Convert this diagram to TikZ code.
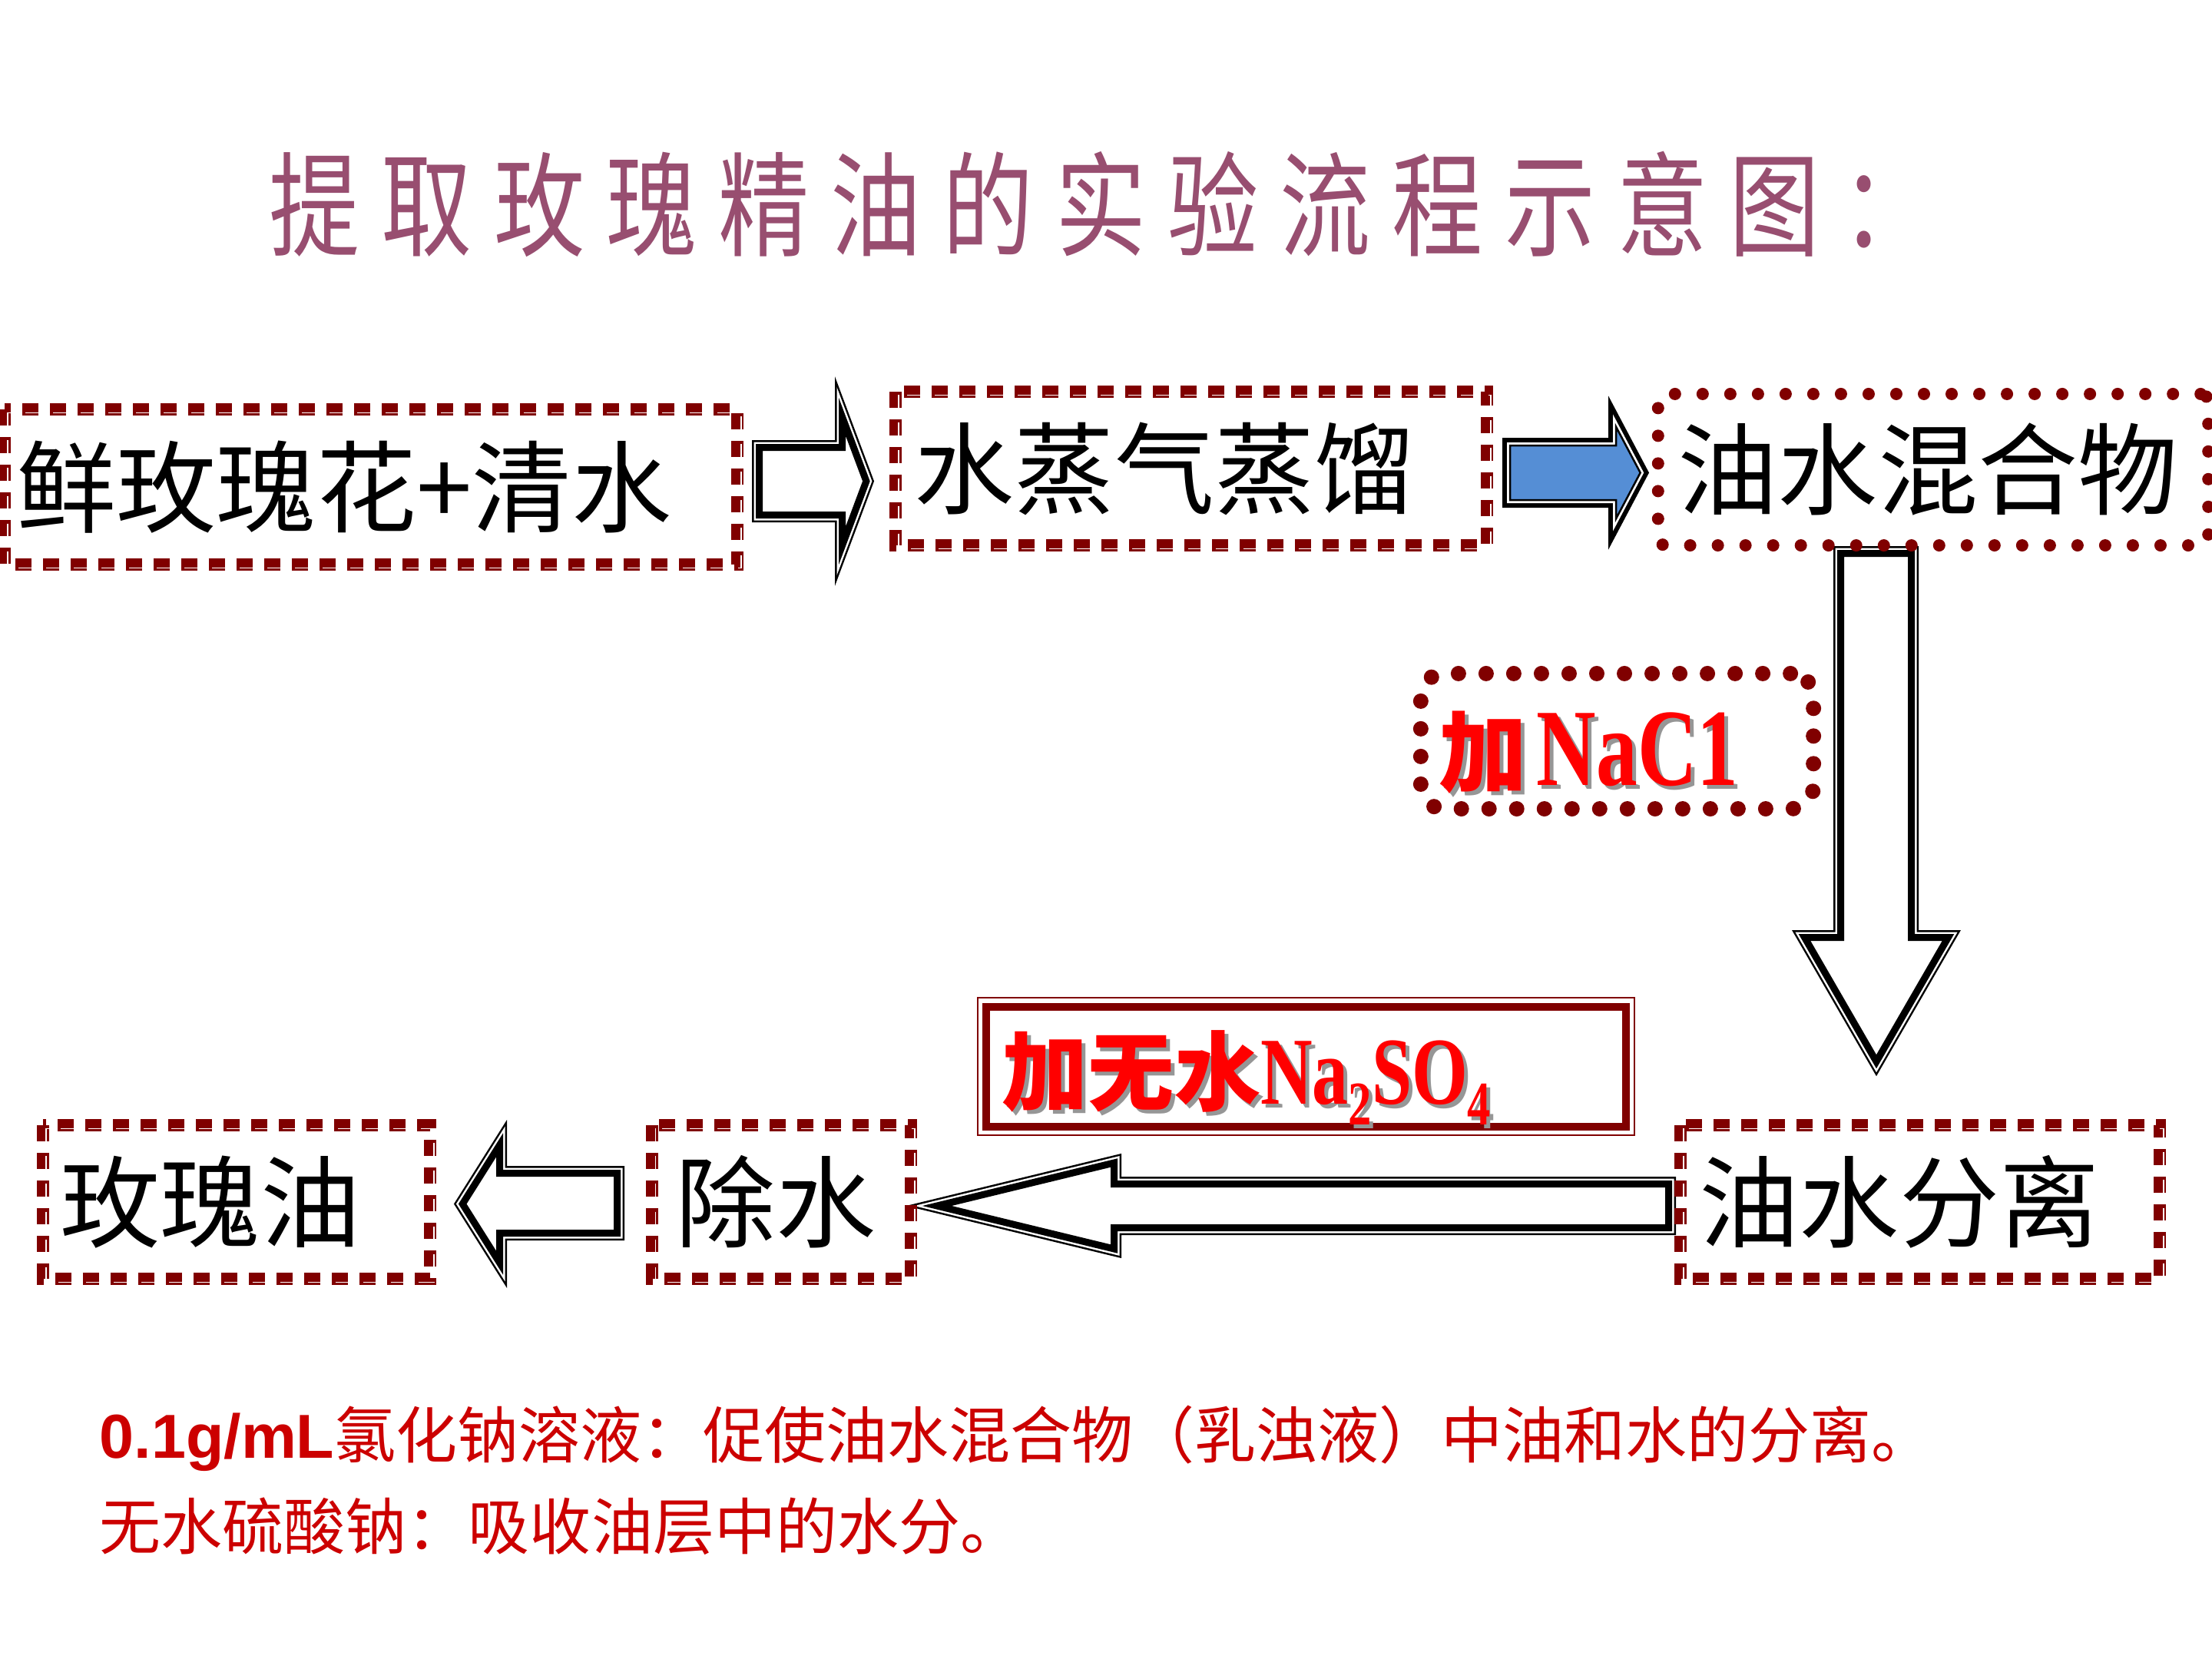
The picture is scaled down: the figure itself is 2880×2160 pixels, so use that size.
\documentclass[tikz,border=0pt]{standalone}
\usepackage{fontspec}
\setmainfont{Liberation Serif}
\newfontfamily\cjk{Noto Sans CJK SC}
\newfontfamily\cjktitle[FakeStretch=0.8,LetterSpace=19]{Noto Sans CJK SC}
\newfontfamily\serifc[FakeStretch=0.75]{Liberation Serif}
\newfontfamily\sansf{Liberation Sans}
\definecolor{darkred}{RGB}{128,0,0}
\definecolor{titlecol}{RGB}{152,78,112}
\definecolor{arrowblue}{RGB}{85,142,213}
\definecolor{labelred}{RGB}{255,0,0}
\definecolor{shadowgray}{RGB}{150,150,150}
\definecolor{notered}{RGB}{204,0,0}

\newcommand\shadowed[1]{\makebox[0pt][l]{\kern0.05cm\raisebox{-0.05cm}{\color{shadowgray}#1}}{\color{labelred}#1}}

\newcommand\hollowarrow[1]{%
  \draw[arrowouter] #1;
  \draw[arrowgap] #1;
  \fill[white] #1;
  \draw[arrowinner] #1;}

\newcommand\bluearrow[1]{%
  \draw[bluearrowouter] #1;
  \draw[bluearrowgap] #1;
  \fill[arrowblue] #1;
  \draw[bluearrowinner] #1;}

\newcommand\flowframe[1]{%
  \draw[dashframe] (#1.north west) rectangle (#1.south east);
  \draw[dashstripe] ([shift={(4.5,4.5)}]#1.north west) rectangle ([shift={(4.5,4.5)}]#1.south east);}

\tikzset{
  arrowouter/.style={draw=black, line width=0.19cm, line join=miter, miter limit=25},
  arrowgap/.style={draw=white, line width=0.14cm, line join=miter, miter limit=25},
  arrowinner/.style={draw=black, line width=0.09cm, line join=miter, miter limit=25},
  bluearrowouter/.style={draw=black, line width=0.2cm, line join=miter, miter limit=25},
  bluearrowgap/.style={draw=white, line width=0.08cm, line join=miter, miter limit=25},
  bluearrowinner/.style={draw=black, line width=0.025cm, line join=miter, miter limit=25},
  dashframe/.style={draw=darkred, line width=0.16cm, dash pattern=on 0.21cm off 0.15cm},
  dashstripe/.style={draw=white, line width=0.018cm, dash pattern=on 0.21cm off 0.15cm},
  dotframe/.style={draw=darkred, line width=0.16cm, line cap=round, dash pattern=on 0cm off 0.36cm},
  flowtext/.style={inner sep=0pt, outer sep=0pt, align=left, font=\cjk\fontsize{37pt}{44pt}\selectfont},
  labelbox/.style={inner sep=0pt, outer sep=0pt, align=left},
  notetext/.style={inner sep=0pt, anchor=west, text=notered, font=\cjk\fontsize{22.76pt}{27pt}\selectfont},
}

\begin{document}
\begin{tikzpicture}[x=0.01cm, y=-0.01cm]
\useasboundingbox (0,0) rectangle (2880,2160);
\fill[white] (0,0) rectangle (2880,2160);

% title
\node[inner sep=0pt, anchor=west, text=titlecol, font=\cjktitle\fontsize{42pt}{48pt}\selectfont] (title) at (350,266) {提取玫瑰精油的实验流程示意图：};

% block arrows
\hollowarrow{(988.5,582.5) -- (1096.5,582.5) -- (1096.5,542.6) -- (1127.9,626.5) -- (1096.5,710.4) -- (1096.5,670.5) -- (988.5,670.5) -- cycle}
\bluearrow{(1966,580) -- (2104,580) -- (2104,555.6) -- (2135.7,615.5) -- (2104,675.4) -- (2104,651) -- (1966,651) -- cycle}
\hollowarrow{(2396.5,720.5) -- (2488.5,720.5) -- (2488.5,1220.5) -- (2536.5,1220.5) -- (2443,1382.2) -- (2349.5,1220.5) -- (2396.5,1220.5) -- cycle}
\hollowarrow{(2172.5,1541.5) -- (1450.5,1541.5) -- (1450.5,1514) -- (1220,1570) -- (1450.5,1626) -- (1450.5,1598.5) -- (2172.5,1598.5) -- cycle}
\hollowarrow{(803.5,1527.5) -- (650.5,1527.5) -- (650.5,1490.9) -- (602.2,1567.5) -- (650.5,1644.1) -- (650.5,1605.5) -- (803.5,1605.5) -- cycle}

% flow boxes
\node[flowtext, text width=9.22cm, inner xsep=0.16cm, minimum height=2.02cm] (b1) at (483,634) {鲜玫瑰花+清水};
\flowframe{b1}
\node[flowtext, text width=7.20cm, inner xsep=0.25cm, minimum height=2.00cm] (b2) at (1551,610) {水蒸气蒸馏};
\flowframe{b2}
\node[flowtext, dotframe, rounded corners=0.1cm, text width=6.64cm, inner xsep=0.26cm, minimum height=1.97cm] (b3) at (2517,611.5) {油水混合物};
\node[flowtext, text width=5.74cm, inner xsep=0.25cm, minimum height=2.00cm] (b6) at (2500,1565) {油水分离};
\flowframe{b6}
\node[flowtext, text width=2.75cm, inner xsep=0.31cm, minimum height=2.00cm] (b5) at (1017.5,1565) {除水};
\flowframe{b5}
\node[flowtext, text width=4.58cm, inner xsep=0.23cm, minimum height=2.00cm] (b4) at (308,1565) {玫瑰油};
\flowframe{b4}

% reagent labels
\node[labelbox, dotframe, line width=0.2cm, rounded corners=0.3cm, text width=4.63cm, inner xsep=0.24cm, minimum height=1.76cm, text height=1.2cm, text depth=0.06cm] (nacl) at (2105.5,965)
  {\shadowed{{\cjk\bfseries\fontsize{32.7pt}{36pt}\selectfont 加}\kern0.12cm{\serifc\bfseries\fontsize{40.7pt}{44pt}\selectfont NaC1}}};

\node[labelbox, draw=darkred, line width=0.1cm, text width=7.91cm, inner xsep=0.21cm, minimum height=1.56cm, text height=1cm, text depth=0.04cm] (naso) at (1700.5,1389)
  {\shadowed{{\cjk\bfseries\fontsize{31.9pt}{36pt}\selectfont 加无水}{\serifc\bfseries\fontsize{35.5pt}{40pt}\selectfont Na\raisebox{-0.27cm}{\fontsize{23pt}{25pt}\selectfont 2}SO\raisebox{-0.27cm}{\fontsize{23pt}{25pt}\selectfont 4}}}};
\draw[darkred, line width=0.02cm] ([shift={(-11,-11.5)}]naso.north west) rectangle ([shift={(11,11)}]naso.south east);

% notes
\node[notetext] (note1) at (129,1873) {{\sansf\bfseries\fontsize{23pt}{27pt}\selectfont 0.1g/mL}氯化钠溶液：促使油水混合物（乳浊液）中油和水的分离。};
\node[notetext] (note2) at (129,1987) {无水硫酸钠：吸收油层中的水分。};
\end{tikzpicture}
\end{document}
